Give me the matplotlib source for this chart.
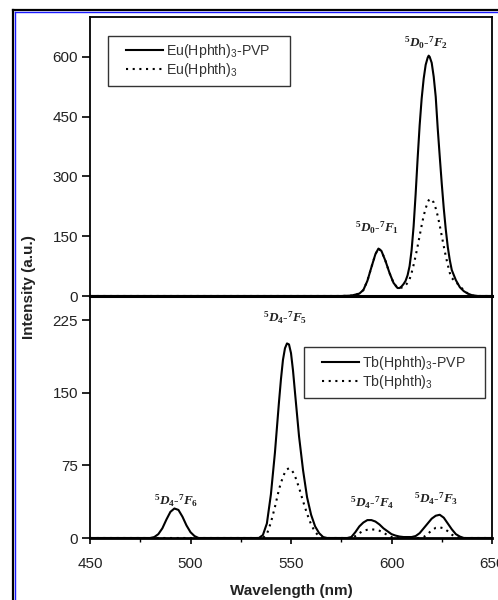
import matplotlib
matplotlib.use("Agg")
import matplotlib.pyplot as plt
from matplotlib.lines import Line2D
from matplotlib.patches import Rectangle

plt.rcParams['font.family'] = ['Liberation Sans', 'DejaVu Sans']
plt.rcParams['mathtext.fontset'] = 'custom'
plt.rcParams['mathtext.rm'] = 'Liberation Sans'
plt.rcParams['mathtext.it'] = 'Liberation Serif:italic:bold'
plt.rcParams['mathtext.bf'] = 'Liberation Serif:bold'

# ---------------- data ----------------
# Upper panel: Eu complexes
eu_wl = [450, 575, 580, 584, 586, 588, 590, 592, 593.5, 595, 597, 599, 601, 603, 604,
         605, 606, 607, 608, 609, 610, 611, 612, 613, 614, 615, 616, 617, 618, 618.5,
         619, 620, 621, 622, 623, 624, 625, 626, 627, 628, 629, 630, 632, 634, 636,
         638, 640, 643, 650]
eu_pvp = [0, 0, 1, 6, 15, 38, 72, 105, 119, 113, 88, 58, 33, 20, 20,
          24, 30, 38, 52, 75, 115, 175, 255, 345, 428, 495, 545, 580, 598, 603,
          600, 585, 550, 500, 420, 350, 282, 220, 167, 123, 90, 65, 40, 22, 12,
          6, 2, 0, 0]
eu_pure = [0, 0, 1, 6, 15, 38, 72, 105, 119, 113, 88, 58, 33, 20, 20,
           21, 23, 27, 33, 42, 58, 78, 100, 125, 151, 177, 201, 220, 235, 240,
           244, 240, 235, 220, 201, 177, 151, 125, 100, 78, 58, 45, 35, 25, 14,
           6, 1, 0, 0]

# Lower panel: Tb complexes
tb_wl = [450, 480, 482, 484, 486, 488, 490, 492, 494, 496, 498, 500, 502, 504,
         534, 536, 538, 540, 542, 544, 545, 546, 547, 548, 549, 550, 551, 552, 554,
         556, 558, 560, 562, 564, 566, 568, 578, 580, 582, 584, 586, 588, 590, 592,
         594, 596, 598, 600, 602, 604, 606, 608, 610, 612, 614, 616, 618, 620, 622,
         624, 626, 628, 630, 632, 634, 636, 650]
tb_pvp = [0, 0, 1, 4, 10, 19, 27, 30.5, 29, 22, 13, 6, 2, 0,
          0, 3, 15, 45, 88, 140, 164, 184, 196, 201, 200, 191, 173, 150, 105,
          70, 42, 24, 12, 5, 1, 0, 0, 1, 6, 12, 16, 18.5, 18.5, 17,
          14, 10, 7, 4, 2.5, 1.5, 1, 1, 1, 2, 5, 10, 15, 20, 23,
          24, 21, 15, 9, 4, 1.5, 0, 0]
tb_pure = [0, 0, 0, 0, 0, 0, 0, 0, 0, 0, 0, 0, 0, 0,
           0, 0, 4, 16, 32, 50, 57, 63, 68, 71, 72, 71, 68, 64, 52,
           38, 25, 14, 6, 2, 0, 0, 0, 0, 2, 5, 7.5, 8.5, 9, 8.5,
           7.5, 5.5, 3, 1, 0, 0, 0, 0, 0, 0, 0, 1, 4, 8, 10.5,
           11, 10, 7, 3.5, 1, 0, 0, 0]

x_ticks = [450, 500, 550, 600, 650]
x_minor = [475, 525, 575, 625]
eu_yticks = [0, 150, 300, 450, 600]
tb_yticks = [0, 75, 150, 225]

eu_labels = ['Eu(Hphth)$_3$-PVP', 'Eu(Hphth)$_3$']
tb_labels = ['Tb(Hphth)$_3$-PVP', 'Tb(Hphth)$_3$']

eu_ann = [(r'$^{\mathbf{5}}D_{\mathbf{0}}$-$^{\mathbf{7}}F_{\mathbf{1}}$', 593, 172),
          (r'$^{\mathbf{5}}D_{\mathbf{0}}$-$^{\mathbf{7}}F_{\mathbf{2}}$', 617, 635)]
tb_ann = [(r'$^{\mathbf{5}}D_{\mathbf{4}}$-$^{\mathbf{7}}F_{\mathbf{6}}$', 493, 38),
          (r'$^{\mathbf{5}}D_{\mathbf{4}}$-$^{\mathbf{7}}F_{\mathbf{5}}$', 547, 227),
          (r'$^{\mathbf{5}}D_{\mathbf{4}}$-$^{\mathbf{7}}F_{\mathbf{4}}$', 590.5, 36),
          (r'$^{\mathbf{5}}D_{\mathbf{4}}$-$^{\mathbf{7}}F_{\mathbf{3}}$', 622, 40)]

# ---------------- figure ----------------
W, H = 498, 600
fig = plt.figure(figsize=(W / 100, H / 100), dpi=100)
fig.patch.set_facecolor('white')

def fx(px):
    return px / W

def fy(py):
    return 1 - py / H

ax1 = fig.add_axes([fx(90), fy(296), fx(492) - fx(90), fy(17) - fy(296)])
ax2 = fig.add_axes([fx(90), fy(538), fx(492) - fx(90), fy(296) - fy(538)])

dot = (0, (1, 2.2))
ax1.plot(eu_wl, eu_pvp, color='black', lw=1.5, label=eu_labels[0], zorder=3)
ax1.plot(eu_wl, eu_pure, color='black', lw=1.5, ls=dot, label=eu_labels[1], zorder=3)
ax2.plot(tb_wl, tb_pvp, color='black', lw=1.5, label=tb_labels[0], zorder=3)
ax2.plot(tb_wl, tb_pure, color='black', lw=1.5, ls=dot, label=tb_labels[1], zorder=3)

for ax in (ax1, ax2):
    ax.set_xlim(450, 650)
    ax.set_facecolor('none')
    for s in ax.spines.values():
        s.set_linewidth(1.3)
        s.set_color('black')
    ax.tick_params(axis='y', direction='out', length=5.5, width=1.2, pad=3,
                   labelsize=11, labelcolor='#222222', right=False)

ax1.set_ylim(0, 700)
ax1.set_yticks(eu_yticks)
ax1.set_xticks([])
ax1.spines['bottom'].set_linewidth(2.2)

ax2.set_ylim(0, 250)
ax2.set_yticks(tb_yticks)
ax2.set_xticks(x_ticks)
ax2.set_xticks(x_minor, minor=True)
ax2.spines['top'].set_visible(False)
ax2.spines['bottom'].set_linewidth(2.0)
ax2.tick_params(axis='x', which='major', direction='out', length=4, width=1.2,
                pad=10, labelsize=11, labelcolor='#222222')
ax2.tick_params(axis='x', which='minor', direction='out', length=3, width=1.0)

# legends: entries without frame, frame drawn as a rectangle box
leg_kw = dict(loc='upper left', bbox_transform=fig.transFigure, borderaxespad=0,
              fontsize=10.2, handlelength=2.6, handletextpad=0.2, labelspacing=0.08,
              borderpad=0, frameon=False)
l1 = ax1.legend(bbox_to_anchor=(fx(126), fy(41.5)), **leg_kw)
l2 = ax2.legend(bbox_to_anchor=(fx(322), fy(353.5)), **leg_kw)
for lg in (l1, l2):
    for t in lg.get_texts():
        t.set_color('#333333')

for (x0, y0, x1, y1) in [(108, 36, 290, 86), (304, 347, 485, 398)]:
    fig.add_artist(Rectangle((fx(x0), fy(y1)), fx(x1) - fx(x0), fy(y0) - fy(y1),
                             transform=fig.transFigure, fill=False,
                             edgecolor='#333333', lw=1.0))

for txt, x, y in eu_ann:
    ax1.text(x, y, txt, ha='center', va='center', fontsize=9.5,
             family='Liberation Serif', weight='bold', color='#222222')
for txt, x, y in tb_ann:
    ax2.text(x, y, txt, ha='center', va='center', fontsize=9.5,
             family='Liberation Serif', weight='bold', color='#222222')

fig.text(fx(29), fy(287), 'Intensity (a.u.)', rotation=90, ha='center', va='center',
         fontsize=11, weight='bold', color='#222222')
fig.text(fx(291), fy(591), 'Wavelength (nm)', ha='center', va='center',
         fontsize=11, weight='bold', color='#222222')

# outer frame (black line with blue inner line)
fig.add_artist(Line2D([fx(13), fx(13)], [fy(10), 0], color='black', lw=1.6,
                      transform=fig.transFigure))
fig.add_artist(Line2D([fx(13), 1], [fy(10), fy(10)], color='black', lw=1.6,
                      transform=fig.transFigure))
fig.add_artist(Line2D([fx(15.2), fx(15.2)], [fy(12.2), 0], color='#1a1aff', lw=1.0,
                      transform=fig.transFigure))
fig.add_artist(Line2D([fx(15.2), 1], [fy(12.2), fy(12.2)], color='#1a1aff', lw=1.0,
                      transform=fig.transFigure))

fig.savefig('out.png', dpi=100)
